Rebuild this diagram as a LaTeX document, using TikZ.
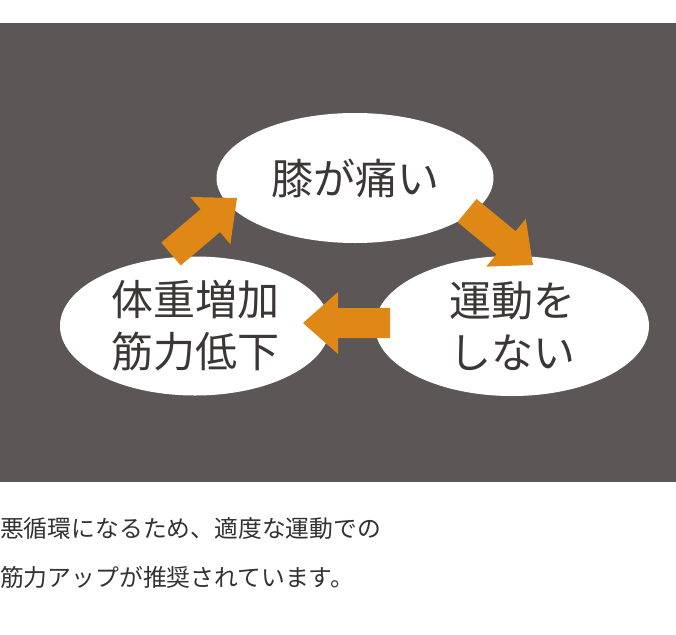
\documentclass[tikz,border=0pt]{standalone}
\usepackage{fontspec}
\newfontfamily\jp{Noto Sans CJK JP}
\usetikzlibrary{calc,shapes.geometric}
\definecolor{bgdark}{RGB}{92,86,86}
\definecolor{orangefill}{RGB}{223,136,22}
\definecolor{inktext}{RGB}{60,55,55}
\definecolor{captext}{RGB}{50,50,50}
\tikzset{
  bubble/.style={ellipse, fill=white, inner sep=0pt, text=inktext,
    font=\jp\fontsize{42}{52}\selectfont, align=center},
  arrowfill/.style={fill=orangefill},
  caption/.style={anchor=west, inner sep=0pt, text=captext,
    font=\jp\fontsize{23.8}{30}\selectfont}
}
\newcommand\blockarrow[2]{%
  \coordinate (ba-b) at ($(#2)!35pt!(#1)$);
  \fill[arrowfill] ($(#1)!15pt!90:(#2)$) -- ($(ba-b)!15pt!90:(#2)$)
    -- ($(ba-b)!31pt!90:(#2)$) -- (#2) -- ($(ba-b)!31pt!-90:(#2)$)
    -- ($(ba-b)!15pt!-90:(#2)$) -- ($(#1)!15pt!-90:(#2)$) -- cycle;
}
\begin{document}
\begin{tikzpicture}[x=1pt,y=-1pt]
\useasboundingbox (0,0) rectangle (676,634);
\fill[white] (0,0) rectangle (676,634);
\fill[bgdark] (0,23) rectangle (676,482);
% bubbles
\node[bubble, minimum width=277pt, minimum height=130pt] (knee) at (355,178) {膝が痛い};
\node[bubble, minimum width=270pt, minimum height=139pt] (weight) at (195,326) {体重増加\\筋力低下};
\node[bubble, minimum width=274pt, minimum height=140pt] (noex) at (512,326) {運動を\\しない};
% arrows
\coordinate (a1t) at (171,254); \coordinate (a1h) at (237,198);
\coordinate (a2t) at (467,210.5); \coordinate (a2h) at (533,265);
\coordinate (a3t) at (390,323); \coordinate (a3h) at (303,323);
\blockarrow{a1t}{a1h}
\blockarrow{a2t}{a2h}
\blockarrow{a3t}{a3h}
% caption
\node[caption] (cap1) at (0,529) {悪循環になるため、適度な運動での};
\node[caption] (cap2) at (0,577) {筋力アップが推奨されています。};
\end{tikzpicture}
\end{document}
